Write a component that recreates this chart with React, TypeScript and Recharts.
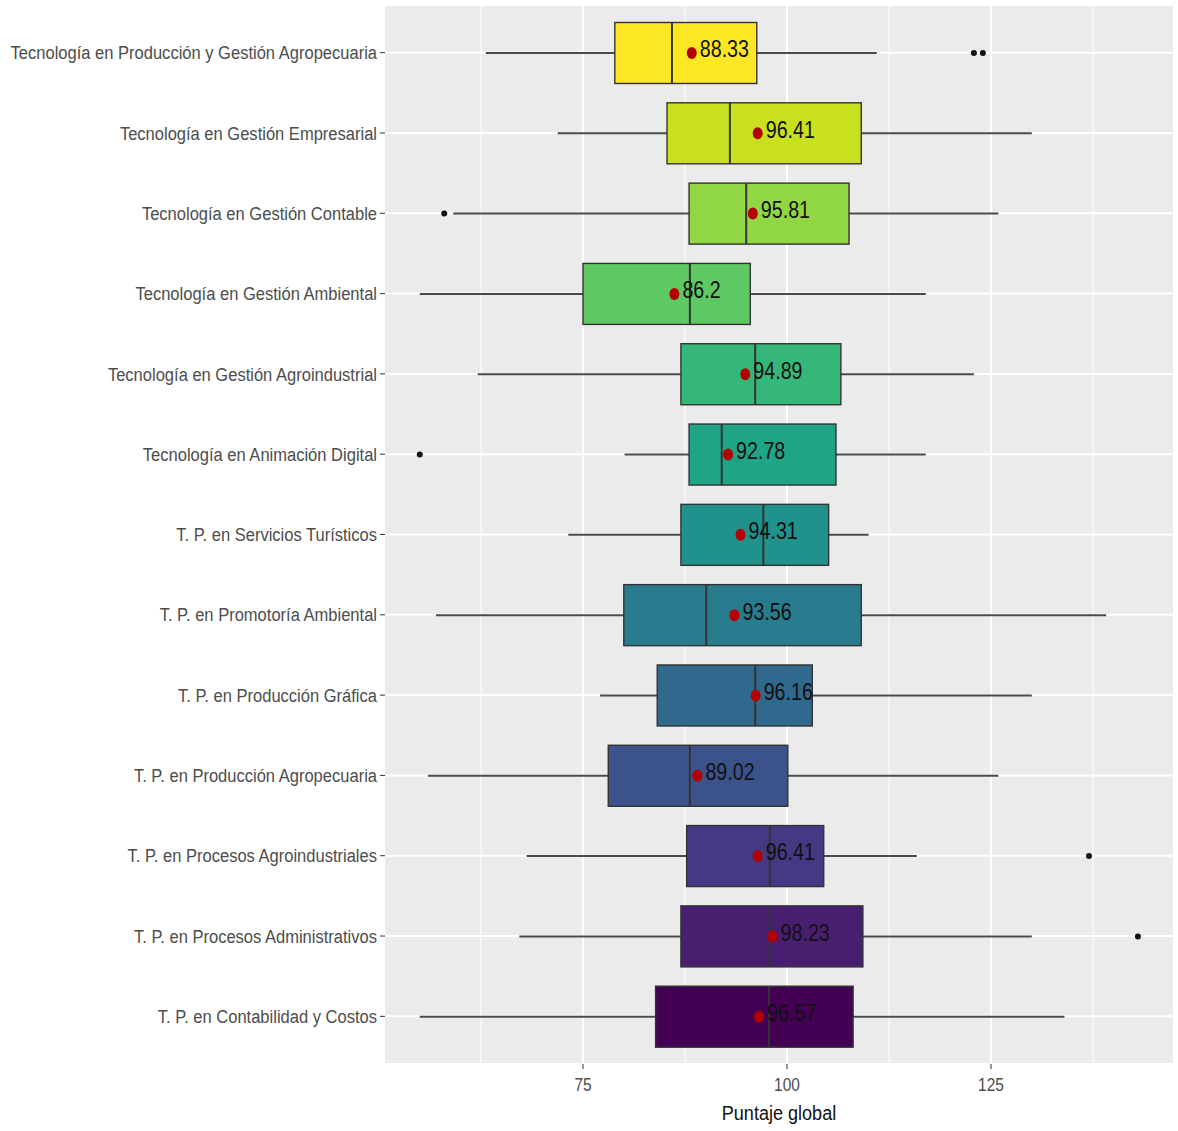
import React from 'react';
import { ComposedChart, Bar, XAxis, YAxis, CartesianGrid } from 'recharts';

const categories = [
  'Tecnología en Producción y Gestión Agropecuaria',
  'Tecnología en Gestión Empresarial',
  'Tecnología en Gestión Contable',
  'Tecnología en Gestión Ambiental',
  'Tecnología en Gestión Agroindustrial',
  'Tecnología en Animación Digital',
  'T. P. en Servicios Turísticos',
  'T. P. en Promotoría Ambiental',
  'T. P. en Producción Gráfica',
  'T. P. en Producción Agropecuaria',
  'T. P. en Procesos Agroindustriales',
  'T. P. en Procesos Administrativos',
  'T. P. en Contabilidad y Costos',
];

const whiskerLow = [63.1, 71.9, 59.1, 55.0, 62.1, 80.1, 73.2, 57.0, 77.1, 56.0, 68.1, 67.2, 55.0];
const q1 = [78.9, 85.3, 88.0, 75.0, 87.0, 88.0, 87.0, 80.0, 84.1, 78.1, 87.7, 87.0, 83.9];
const medians = [85.9, 93.0, 95.0, 88.1, 96.1, 92.0, 97.1, 90.1, 96.1, 88.1, 97.9, 97.9, 97.8];
const q3 = [96.3, 109.1, 107.6, 95.5, 106.6, 106.0, 105.1, 109.1, 103.1, 100.1, 104.5, 109.3, 108.1];
const whiskerHigh = [111.0, 130.0, 125.9, 117.0, 122.9, 117.0, 110.0, 139.1, 130.0, 125.9, 115.9, 130.0, 134.0];
const means = [88.33, 96.41, 95.81, 86.2, 94.89, 92.78, 94.31, 93.56, 96.16, 89.02, 96.41, 98.23, 96.57];
const outliers: number[][] = [[122.9, 124.0], [], [58.0], [], [], [55.0], [], [], [], [], [137.0], [143.0], []];
const colors = [
  '#FDE725', '#C8E020', '#90D743', '#5EC962', '#35B779', '#20A486', '#21918C',
  '#287C8E', '#31688E', '#3B528B', '#443983', '#481F70', '#440154',
];

const xTicks = [75, 100, 125];
const majorX = [75, 100, 125];
const minorX = [62.5, 87.5, 112.5, 137.5];

const data = categories.map((name, i) => ({
  name,
  range: [whiskerLow[i], whiskerHigh[i]],
  q1: q1[i],
  median: medians[i],
  q3: q3[i],
  mean: means[i],
  outliers: outliers[i],
  color: colors[i],
}));

const BoxShape = (props: any) => {
  const { x, y, width, height, payload } = props;
  const lo = payload.range[0];
  const hi = payload.range[1];
  const px = (v: number) => x + (width * (v - lo)) / (hi - lo);
  const cy = y + height / 2;
  const bx1 = px(payload.q1);
  const bx2 = px(payload.q3);
  const mx = px(payload.median);
  const meanX = px(payload.mean);
  return (
    <g>
      <line x1={px(lo)} x2={bx1} y1={cy} y2={cy} stroke="#4a4a4a" strokeWidth={2} />
      <line x1={bx2} x2={px(hi)} y1={cy} y2={cy} stroke="#4a4a4a" strokeWidth={2} />
      <rect x={bx1} y={y} width={bx2 - bx1} height={height} fill={payload.color} stroke="#333333" strokeWidth={1.4} />
      <line x1={mx} x2={mx} y1={y} y2={y + height} stroke="#333333" strokeWidth={2} />
      {payload.outliers.map((o: number, k: number) => (
        <circle key={k} cx={px(o)} cy={cy} r={3} fill="#111" />
      ))}
      <ellipse cx={meanX} cy={cy} rx={5} ry={6} fill="#B50000" />
      <g transform={`translate(${meanX + 8},${cy - 4}) scale(0.82,1)`}>
        <text x={0} y={0} dy="0.35em" fontSize={24} fill="#111" fontFamily="Liberation Sans, Arial, sans-serif">
          {String(payload.mean)}
        </text>
      </g>
    </g>
  );
};

const YTick = (props: any) => {
  const { x, y, payload } = props;
  return (
    <g transform={`translate(${x},${y}) scale(0.87,1)`}>
      <text x={0} y={0} dy="0.35em" textAnchor="end" fontSize={19} fill="#4D4D4D" fontFamily="Liberation Sans, Arial, sans-serif">
        {payload.value}
      </text>
    </g>
  );
};

const XTick = (props: any) => {
  const { x, y, payload } = props;
  return (
    <g transform={`translate(${x},${y}) scale(0.86,1)`}>
      <text x={0} y={0} dy="1.1em" textAnchor="middle" fontSize={18} fill="#4D4D4D" fontFamily="Liberation Sans, Arial, sans-serif">
        {payload.value}
      </text>
    </g>
  );
};

const XLabel = (props: any) => {
  const { viewBox } = props;
  const cx = viewBox.x + viewBox.width / 2;
  const ty = viewBox.y + 49;
  return (
    <g transform={`translate(${cx},${ty}) scale(0.86,1)`}>
      <text x={0} y={0} dy="0.35em" textAnchor="middle" fontSize={21} fill="#111" fontFamily="Liberation Sans, Arial, sans-serif">
        Puntaje global
      </text>
    </g>
  );
};

export default function App() {
  return (
    <div style={{ position: 'absolute', left: 0, top: 0, width: 1178, height: 1131, background: '#fff' }}>
      <ComposedChart
        width={1178}
        height={1131}
        data={data}
        layout="vertical"
        margin={{ top: 5, right: 5, bottom: 0, left: 0 }}
      >
        <CartesianGrid
          fill="#EBEBEB"
          stroke="#FFFFFF"
          strokeWidth={2}
          horizontal={true}
          vertical={true}
          verticalValues={majorX}
        />
        <CartesianGrid
          fill="none"
          stroke="#FFFFFF"
          strokeWidth={1}
          horizontal={false}
          vertical={true}
          verticalValues={minorX}
        />
        <XAxis
          type="number"
          domain={[50.74, 147.3]}
          ticks={xTicks}
          allowDataOverflow
          height={67}
          axisLine={false}
          tickLine={{ stroke: '#333333' }}
          tickSize={5}
          tickMargin={2}
          tick={<XTick />}
          label={<XLabel />}
        />
        <YAxis
          type="category"
          dataKey="name"
          width={385}
          axisLine={false}
          tickLine={{ stroke: '#333333' }}
          tickSize={5}
          tickMargin={3}
          padding={{ top: 7.5, bottom: 7.5 }}
          interval={0}
          tick={<YTick />}
        />
        <Bar dataKey="range" barSize={61} shape={<BoxShape />} isAnimationActive={false} />
      </ComposedChart>
    </div>
  );
}
